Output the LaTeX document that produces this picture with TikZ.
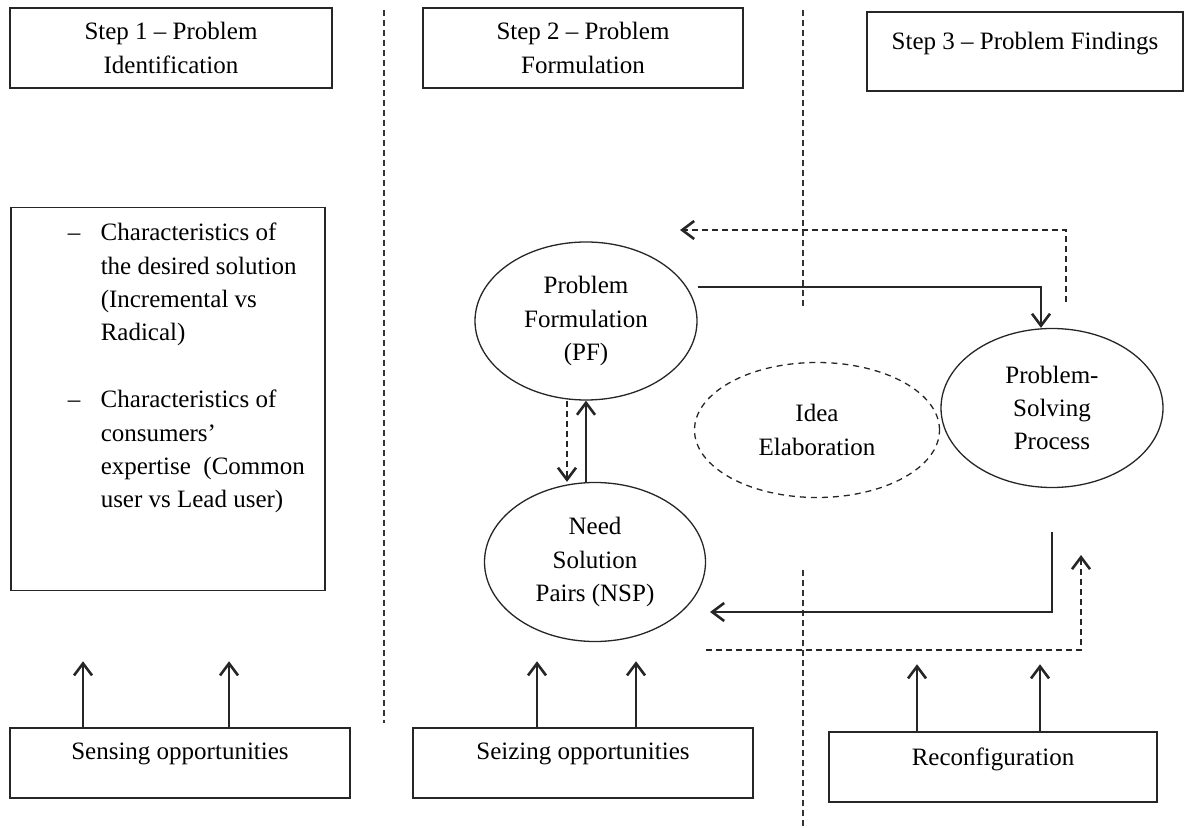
\documentclass[tikz,border=0pt]{standalone}
\usepackage{fontspec}
\setmainfont{Liberation Serif}
\usepackage{tikz}
\usetikzlibrary{shapes.geometric, arrows.meta}
\tikzstyle{box} = [rectangle, draw=black!85, line width=0.75pt, inner sep=0pt, align=center]
\tikzstyle{oval} = [ellipse, draw=black!85, line width=0.65pt, inner sep=0pt, align=center]
\tikzstyle{dashoval} = [oval, dash pattern=on 3pt off 2.5pt]
\tikzstyle{arrow} = [line width=0.7pt, draw=black!85, -{Straight Barb[length=6pt,width=9pt,line width=1.3pt]}]
\tikzstyle{dasharrow} = [arrow, dash pattern=on 3pt off 2pt]
\tikzstyle{uparrow} = [arrow, line width=1pt]
\tikzstyle{divider} = [line width=0.8pt, draw=black!80, dash pattern=on 3pt off 2pt]

\begin{document}
\begin{tikzpicture}[x=0.5pt, y=-0.5pt, font=\fontsize{12.5}{16.7}\selectfont]
\useasboundingbox (0,0) rectangle (1184,828);

% the three steps
\node (step1) [box, minimum width=161pt, minimum height=40pt] at (171,48) {Step 1 -- Problem\\Identification};
\node (step2) [box, minimum width=160pt, minimum height=40pt] at (583,48) {Step 2 -- Problem\\Formulation};
\node (step3) [box, minimum width=158pt, minimum height=39.5pt, text height=19pt, text depth=20.5pt] at (1025,51.5) {Step 3 -- Problem Findings};

\draw [divider] (384,10) -- (384,723);
\draw [divider] (803,10) -- (803,308);
\draw [divider] (803,570) -- (803,828);

\node (traits) [box, anchor=north west] at (10,207) {\parbox[t][191.5pt][t]{157pt}{\vspace*{4.8pt}%
\begin{tabular}[t]{@{\hspace{28.5pt}}p{16.5pt}@{}l@{}}
-- & Characteristics of\\
   & the desired solution\\
   & (Incremental vs\\
   & Radical)\\
   & \\
-- & Characteristics of\\
   & consumers'\\
   & expertise\ \ (Common\\
   & user vs Lead user)
\end{tabular}}};

% the cycle of step 2 and 3
\node (pf) [oval, minimum width=111pt, minimum height=79pt] at (586,321) {Problem\\Formulation\\(PF)};
\node (nsp) [oval, minimum width=110.5pt, minimum height=79.5pt] at (595,562) {Need\\Solution\\Pairs (NSP)};
\node (idea) [dashoval, minimum width=122.5pt, minimum height=67.5pt] at (817,430) {Idea\\Elaboration};
\node (psp) [oval, minimum width=111pt, minimum height=79.5pt] at (1052,408) {Problem-\\Solving\\Process};

\coordinate (pfdown) at ([xshift=-9.5pt]pf.south);
\coordinate (backtip) at (680,230);
\coordinate (psout) at ([yshift=-22pt]psp.south);
\coordinate (nspin) at (710,612);
\coordinate (loopstart) at (706,650);
\coordinate (looptip) at (1081,555);

\draw [arrow] ([yshift=17pt]pf.east) -| ([xshift=-5.5pt]psp.north);
\draw [dasharrow] ([shift={(7pt,13pt)}]psp.north) |- (backtip);
\draw [dasharrow] (pfdown) -- (pfdown |- nsp.north);
\draw [arrow] (pf.south |- nsp.north) -- (pf.south);
\draw [arrow] (psout) |- (nspin);
\draw [dasharrow] (loopstart) -| (looptip);

% dynamic capabilities
\node (sense) [box, minimum width=170pt, minimum height=35pt, text height=15.5pt, text depth=19.5pt] at (180,763) {Sensing opportunities};
\node (seize) [box, minimum width=170pt, minimum height=35pt, text height=15.5pt, text depth=19.5pt] at (583,763) {Seizing opportunities};
\node (reconf) [box, minimum width=164pt, minimum height=35pt, text height=16.5pt, text depth=18.5pt] at (993,767) {Reconfiguration};

\draw [uparrow] ([xshift=-48.5pt]sense.north) -- ++(0,-66);
\draw [uparrow] ([xshift=24.5pt]sense.north) -- ++(0,-66);
\draw [uparrow] ([xshift=-23pt]seize.north) -- ++(0,-66);
\draw [uparrow] ([xshift=26.5pt]seize.north) -- ++(0,-66);
\draw [uparrow] ([xshift=-38pt]reconf.north) -- ++(0,-67);
\draw [uparrow] ([xshift=23.5pt]reconf.north) -- ++(0,-67);
\end{tikzpicture}
\end{document}
